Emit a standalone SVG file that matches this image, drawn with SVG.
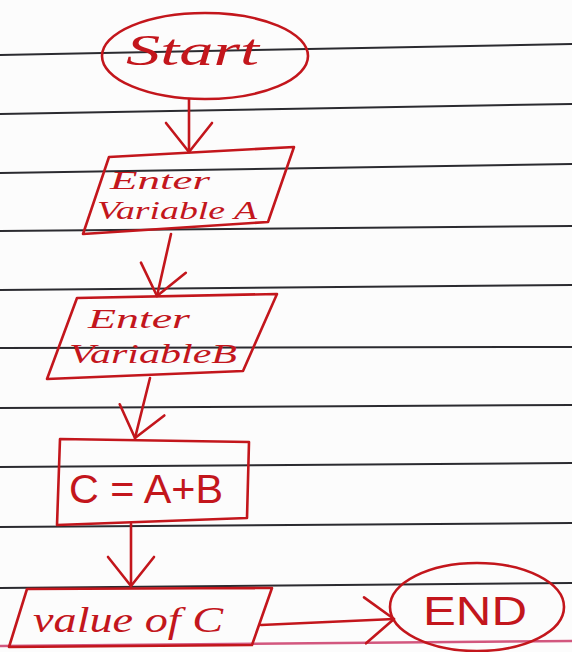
<svg xmlns="http://www.w3.org/2000/svg" width="572" height="652" viewBox="0 0 572 652">
<style>
.paper{stroke:#2b2b30;stroke-width:2;fill:none}
.pink{stroke:#d2577e;stroke-width:2.5;fill:none}
.shape{stroke:#c3161c;stroke-width:2.6;fill:none;stroke-linejoin:round}
.conn{stroke:#c3161c;stroke-width:2.6;fill:none;stroke-linecap:round}
.hand{font-family:"Liberation Serif",serif;font-style:italic;fill:#c3161c}
.print{font-family:"Liberation Sans",sans-serif;fill:#c3161c}
</style>
<defs>
<marker id="v" markerUnits="userSpaceOnUse" markerWidth="70" markerHeight="70" viewBox="-40 -35 45 70" refX="0" refY="0" orient="auto">
<path d="M -29 -23 L 0 0 L -29 23" fill="none" stroke="#c3161c" stroke-width="2.6" stroke-linecap="round" stroke-linejoin="round"/>
</marker>
</defs>
<rect x="0" y="0" width="572" height="652" fill="#fcfcfc"/>
<g id="paper">
<line class="paper" x1="0" y1="55" x2="572" y2="44"/>
<line class="paper" x1="0" y1="114" x2="572" y2="104"/>
<line class="paper" x1="0" y1="173" x2="572" y2="164"/>
<line class="paper" x1="0" y1="231" x2="572" y2="226"/>
<line class="paper" x1="0" y1="290" x2="572" y2="285"/>
<line class="paper" x1="0" y1="348" x2="572" y2="347"/>
<line class="paper" x1="0" y1="408" x2="572" y2="405"/>
<line class="paper" x1="0" y1="467" x2="572" y2="463"/>
<line class="paper" x1="0" y1="527" x2="572" y2="523"/>
<line class="paper" x1="0" y1="588" x2="572" y2="583"/>
<line class="pink" x1="0" y1="646" x2="572" y2="641"/>
</g>
<g id="connectors">
<line class="conn" x1="189" y1="99" x2="189" y2="152" marker-end="url(#v)"/>
<line class="conn" x1="171" y1="234" x2="157" y2="296" marker-end="url(#v)"/>
<line class="conn" x1="150" y1="378" x2="135" y2="438" marker-end="url(#v)"/>
<line class="conn" x1="131" y1="524" x2="131" y2="586" marker-end="url(#v)"/>
<line class="conn" x1="261" y1="625" x2="394" y2="619" marker-end="url(#v)"/>
</g>
<g id="start">
<ellipse class="shape" cx="205" cy="56" rx="103" ry="43"/>
<text class="hand" x="126" y="65" font-size="44" textLength="133" lengthAdjust="spacingAndGlyphs">Start</text>
</g>
<g id="inputA">
<polygon class="shape" points="109,157 294,147 268,222 83,234"/>
<text class="hand" x="110" y="189" font-size="26" textLength="100" lengthAdjust="spacingAndGlyphs">Enter</text>
<text class="hand" x="97" y="219" font-size="26" textLength="160" lengthAdjust="spacingAndGlyphs">Variable A</text>
</g>
<g id="inputB">
<polygon class="shape" points="77,298 277,294 243,371 47,379"/>
<text class="hand" x="88" y="328" font-size="28" textLength="102" lengthAdjust="spacingAndGlyphs">Enter</text>
<text class="hand" x="69" y="363" font-size="28" textLength="168" lengthAdjust="spacingAndGlyphs">VariableB</text>
</g>
<g id="process">
<polygon class="shape" points="60,439 249,442 247,518 57,525"/>
<text class="print" x="69" y="503" font-size="40" textLength="154" lengthAdjust="spacingAndGlyphs">C = A+B</text>
</g>
<g id="output">
<polygon class="shape" points="27,589 272,588 252,645 9,647"/>
<text class="hand" x="33" y="632" font-size="36" textLength="190" lengthAdjust="spacingAndGlyphs">value of C</text>
</g>
<g id="end">
<ellipse class="shape" cx="477" cy="607" rx="87" ry="44"/>
<text class="print" x="423" y="625" font-size="40" textLength="104" lengthAdjust="spacingAndGlyphs">END</text>
</g>
</svg>
